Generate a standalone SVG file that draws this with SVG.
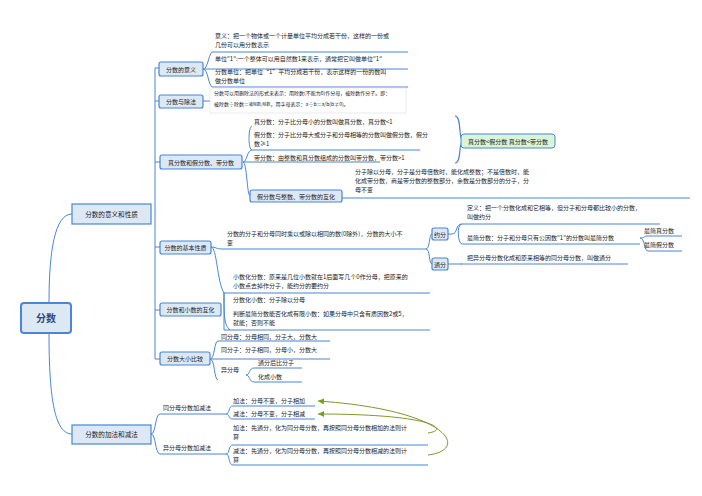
<svg xmlns="http://www.w3.org/2000/svg" width="702" height="496" viewBox="0 0 702 496">
<style>
text{font-family:"Noto Sans CJK SC","Noto Sans",sans-serif;font-size:6px;fill:#222}
.n{fill:#dde8f5;stroke:#4a86d4;stroke-width:1.2}
.c{fill:none;stroke:#4a86d4;stroke-width:1}
.l{font-size:6.6px}
.g{fill:none;stroke:#7a9a2a;stroke-width:1}
</style>
<defs><marker id="a" markerWidth="8" markerHeight="8" refX="6" refY="3" orient="auto"><path d="M0,0L6,3L0,6Z" fill="#7a9a2a"/></marker></defs>
<g id="connectors">
<path class="c" d="M49,303C49,250 55,214 72,214M49,333C49,400 55,434 72,434"/>
<path class="c" d="M155,214V68M155,214V359M155,68H159M155,101H159M155,162H160M155,247H160M155,310H160M155,359H160"/>
<path class="c" d="M203,69C208,69 208,56 212,52H408M203,69H408M203,69C208,69 208,84 212,87H408"/>
<path class="c" d="M203,101H210"/>
<path class="c" d="M243,162C247,162 247,150 252,150H420M252,150C248,150 248,127 252,126M243,162H380M243,162C247,162 247,196 250,196"/>
<path d="M455,116C462,116 458,140 463,141C458,142 462,163 455,163" fill="none" stroke="#4a86d4" stroke-width="1.2"/>
<path class="c" d="M342,198H690"/>
<path class="c" d="M211,247C216,247 216,249 222,249H426M211,247C217,247 217,282 224,293H430M224,293V330H430M224,293C224,315 224,325 230,330"/>
<path class="c" d="M426,249C430,249 429,234 432,234M426,249C430,249 429,264 432,264"/>
<path class="c" d="M448,234H452C458,234 455,224 462,224H660M462,224C456,224 458,244 462,244H640M448,264H462C458,264 459,264 628,264"/>
<path class="c" d="M640,238C645,238 644,236 648,236H682M640,238C645,238 644,251 648,251H682"/>
<path class="c" d="M210,359C215,359 214,341 218,341H330M210,359H330M210,359C215,359 214,380 218,380"/>
<path class="c" d="M246,375C250,375 249,368 254,368H302M246,375C250,375 249,382 254,382H302"/>
<path class="c" d="M151,434C156,434 155,414 160,414H226M151,434C156,434 155,454 160,454H226"/>
<path class="c" d="M226,414C230,414 228,406 233,406H315M226,414C230,414 228,419 233,419H315M226,454C230,454 228,445 233,445H428M226,454C230,454 228,465 233,465H428"/>
<path class="g" d="M428,455C470,450 450,410 318,401" marker-end="url(#a)"/>
<path class="g" d="M428,433C450,430 435,414 318,414" marker-end="url(#a)"/>
</g>
<g id="root"><rect x="21" y="303" width="50" height="30" rx="3" fill="#dde8f5" stroke="#4a86d4" stroke-width="2"/><text x="46" y="322" text-anchor="middle" style="font-size:10px;font-weight:bold;fill:#2a4a7a">分数</text></g>
<g id="n1"><rect class="n" x="72" y="204" width="79" height="20"/><text class="l" x="111.5" y="216.5" text-anchor="middle">分数的意义和性质</text></g>
<g id="n2"><rect class="n" x="72" y="425" width="79" height="19"/><text class="l" x="111.5" y="437" text-anchor="middle">分数的加法和减法</text></g>
<g id="n3"><rect class="n" x="159" y="62" width="44" height="14" rx="2"/><text x="181" y="71.5" text-anchor="middle">分数的意义</text></g>
<g id="n4"><rect class="n" x="159" y="95" width="44" height="13" rx="2"/><text x="181" y="104" text-anchor="middle">分数与除法</text></g>
<g id="n5"><rect class="n" x="160" y="155" width="82" height="14" rx="2"/><text x="201" y="164.5" text-anchor="middle">真分数和假分数、带分数</text></g>
<g id="n6"><rect class="n" x="160" y="241" width="51" height="13" rx="2"/><text x="185.5" y="250" text-anchor="middle">分数的基本性质</text></g>
<g id="n7"><rect class="n" x="160" y="303" width="61" height="13" rx="2"/><text x="190.5" y="312" text-anchor="middle">分数和小数的互化</text></g>
<g id="n8"><rect class="n" x="160" y="352" width="50" height="13" rx="2"/><text x="185" y="361" text-anchor="middle">分数大小比较</text></g>
<g id="n9"><rect class="n" x="250" y="190" width="92" height="12" rx="2"/><text x="296" y="198.5" text-anchor="middle">假分数与整数、带分数的互化</text></g>
<g id="n10"><rect x="461" y="134" width="94" height="14" rx="3" fill="#d9f5d5" stroke="#4a86d4"/><text x="508" y="143.5" text-anchor="middle">真分数&lt;假分数  真分数&lt;带分数</text></g>
<g id="n11"><rect class="n" x="432" y="228" width="16" height="12" rx="2"/><text x="440" y="236.5" text-anchor="middle">约分</text></g>
<g id="n12"><rect class="n" x="432" y="258" width="16" height="12" rx="2"/><text x="440" y="266.5" text-anchor="middle">通分</text></g>
<g id="n13"><rect x="210" y="88" width="196" height="25" fill="#fff" stroke="#ddd" stroke-width="0.6"/><text x="214" y="95" style="font-size:5px">分数可以用删除法的形式来表示：用除数(不能为0)作分母，被除数作分子。即：</text><text x="214" y="106" style="font-size:5px">被除数÷除数＝<tspan style="font-size:4px">被除数/除数</tspan>，用字母表示：a÷b＝a/b(b≠0)。</text></g>
<g id="leaves">
<text x="215" y="38">意义：把一个物体或一个计量单位平均分成若干份，这样的一份或</text>
<text x="215" y="47">几份可以用分数表示</text>
<text x="215" y="61">单位"1":一个整体可以用自然数1来表示，通常把它叫做单位"1"</text>
<text x="215" y="74">分数单位：把单位“1”平均分成若干份，表示这样的一份的数叫</text>
<text x="215" y="83">做分数单位</text>
<text x="254" y="124">真分数：分子比分母小的分数叫做真分数，真分数&lt;1</text>
<text x="254" y="137">假分数：分子比分母大或分子和分母相等的分数叫做假分数，假分</text>
<text x="254" y="146">数≥1</text>
<text x="254" y="160">带分数：由整数和真分数组成的分数叫带分数，带分数&gt;1</text>
<text x="355" y="174">分子除以分母，分子是分母倍数时，能化成整数；不是倍数时，能</text>
<text x="355" y="183">化成带分数，商是带分数的整数部分，余数是分数部分的分子，分</text>
<text x="355" y="192">母不变</text>
<text x="227" y="236">分数的分子和分母同时乘以或除以相同的数(0除外)，分数的大小不</text>
<text x="227" y="245">变</text>
<text x="467" y="210">定义：把一个分数化成和它相等，但分子和分母都比较小的分数，</text>
<text x="467" y="219">叫做约分</text>
<text x="467" y="240">最简分数：分子和分母只有公因数"1"的分数叫最简分数</text>
<text x="644" y="233">最简真分数</text>
<text x="644" y="247">最简假分数</text>
<text x="467" y="260">把异分母分数化成和原来相等的同分母分数，叫做通分</text>
<text x="233" y="279">小数化分数：原来是几位小数就在1后面写几个0作分母，把原来的</text>
<text x="233" y="288">小数点去掉作分子，能约分的要约分</text>
<text x="233" y="302">分数化小数：分子除以分母</text>
<text x="233" y="316">判断最简分数能否化成有限小数：如果分母中只含有质因数2或5，</text>
<text x="233" y="325">就能；否则不能</text>
<text x="221" y="339">同分母：分母相同，分子大，分数大</text>
<text x="221" y="352">同分子：分子相同，分母小，分数大</text>
<text x="221" y="372">异分母</text>
<text x="258" y="365">通分后比分子</text>
<text x="258" y="379">化成小数</text>
<text x="163" y="410">同分母分数加减法</text>
<text x="163" y="450">异分母分数加减法</text>
<text x="233" y="403">加法：分母不变，分子相加</text>
<text x="233" y="416">减法：分母不变，分子相减</text>
<text x="233" y="430">加法：先通分，化为同分母分数，再按照同分母分数相加的法则计</text>
<text x="233" y="439">算</text>
<text x="233" y="453">减法：先通分，化为同分母分数，再按照同分母分数相减的法则计</text>
<text x="233" y="462">算</text>
</g>
</svg>
